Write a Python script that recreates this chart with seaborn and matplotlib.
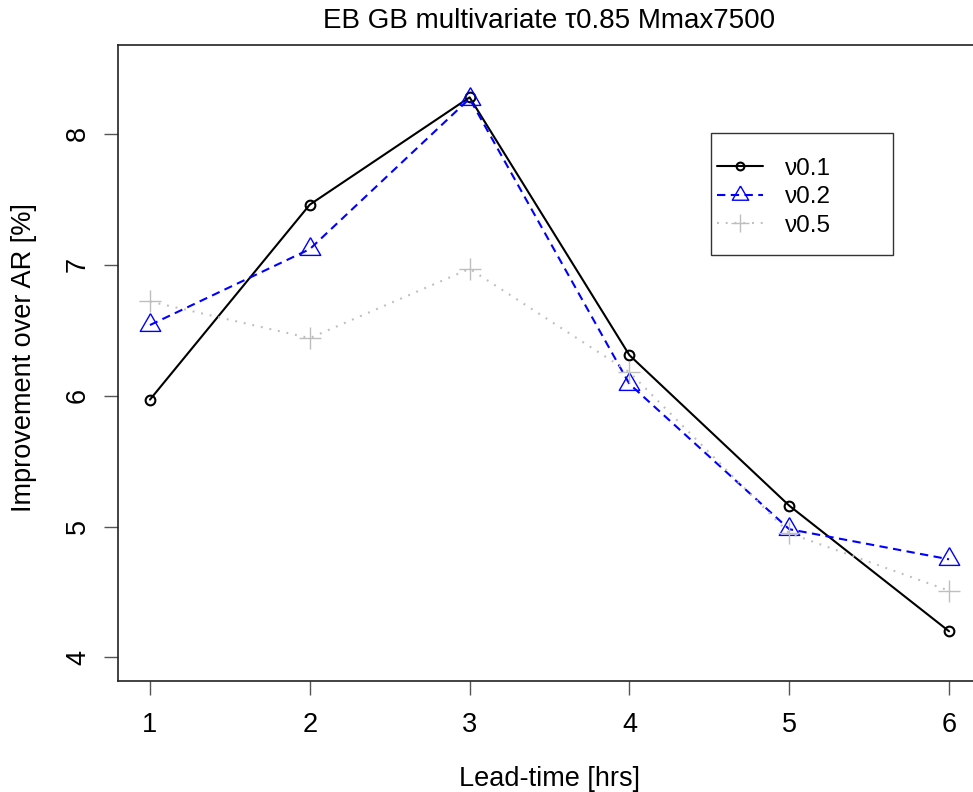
import matplotlib
matplotlib.use("Agg")
import matplotlib.pyplot as plt
from matplotlib.patches import Rectangle
import seaborn as sns
import pandas as pd

lead_time = [1, 2, 3, 4, 5, 6]
nu01 = [5.97, 7.46, 8.28, 6.31, 5.16, 4.20]
nu02 = [6.54, 7.12, 8.27, 6.09, 4.98, 4.75]
nu05 = [6.72, 6.44, 6.97, 6.18, 4.95, 4.51]
labels = ["ν0.1", "ν0.2", "ν0.5"]
title = "EB GB multivariate τ0.85 Mmax7500"
xlabel = "Lead-time [hrs]"
ylabel = "Improvement over AR [%]"
xticks = [1, 2, 3, 4, 5, 6]
yticks = [4, 5, 6, 7, 8]

sns.set_theme(style="white")
plt.rcParams['font.family'] = ['Liberation Sans', 'DejaVu Sans']
plt.rcParams['text.color'] = 'black'
plt.rcParams['axes.labelcolor'] = 'black'

W, H = 973, 792
fig = plt.figure(figsize=(W / 100, H / 100), dpi=100)
L, R, T, B = 118, 981, 45, 681
ax = fig.add_axes([L / W, 1 - B / H, (R - L) / W, (B - T) / H])


def fx(px):
    return (px - L) / (R - L)


def fy(py):
    return (B - py) / (B - T)


df = pd.DataFrame({"x": lead_time, "a": nu01, "b": nu02, "c": nu05})
tri = [(0, 1), (-0.866, -0.5), (0.866, -0.5), (0, 1)]

sns.lineplot(data=df, x="x", y="a", ax=ax, color="black", lw=1.5,
             marker="o", markersize=7, markerfacecolor="none",
             markeredgecolor="black", markeredgewidth=1.5, label=labels[0])
sns.lineplot(data=df, x="x", y="b", ax=ax, color="#0000FF", lw=1.5,
             dashes=(4, 2.6), marker=tri, markersize=17, markerfacecolor="none",
             markeredgecolor="#0000FF", markeredgewidth=1.0, label=labels[1])
sns.lineplot(data=df, x="x", y="c", ax=ax, color="#BEBEBE", lw=1.5,
             dashes=(0.9, 3.3), marker="+", markersize=16,
             markeredgecolor="#BEBEBE", markeredgewidth=1.0, label=labels[2])

ax.set_xlim(0.8, 6.2)
ax.set_ylim(3.82, 8.68)
ax.set_xticks(xticks)
ax.set_yticks(yticks)
ax.set_xticklabels([str(t) for t in xticks], fontsize=19.5)
ax.set_yticklabels([str(t) for t in yticks], fontsize=19.5, rotation=90, va="center")
ax.tick_params(axis="both", direction="out", length=10, width=1, color="#555555",
               labelcolor="black", bottom=True, left=True)
ax.tick_params(axis="x", pad=12)
ax.tick_params(axis="y", pad=9.5)
for s in ax.spines.values():
    s.set_color("#222222")
    s.set_linewidth(1.2)

ax.set_xlabel(xlabel, fontsize=19.5)
ax.xaxis.set_label_coords(fx(549.5), fy(786))
ax.xaxis.label.set_va("baseline")
ax.set_ylabel(ylabel, fontsize=19.5)
ax.yaxis.set_label_coords(fx(31.5), fy(358))
ax.yaxis.label.set_va("baseline")
ax.yaxis.label.set_rotation_mode("anchor")

fig.text(549.5 / W, 1 - 28 / H, title, fontsize=20, ha="center", va="baseline")

ax.add_patch(Rectangle((fx(711), fy(255)), fx(893) - fx(711), fy(133) - fy(255),
                       transform=ax.transAxes, facecolor="white", edgecolor="#333333",
                       lw=1.0, zorder=5))
leg = ax.legend(loc="upper left", bbox_to_anchor=(fx(717), fy(157.5)),
                frameon=False, fontsize=17.5, handlelength=1.89, markerscale=0.8,
                borderpad=0, labelspacing=0.27, handletextpad=0.9, borderaxespad=0)
leg.set_zorder(6)

fig.savefig("out.png", dpi=100)
